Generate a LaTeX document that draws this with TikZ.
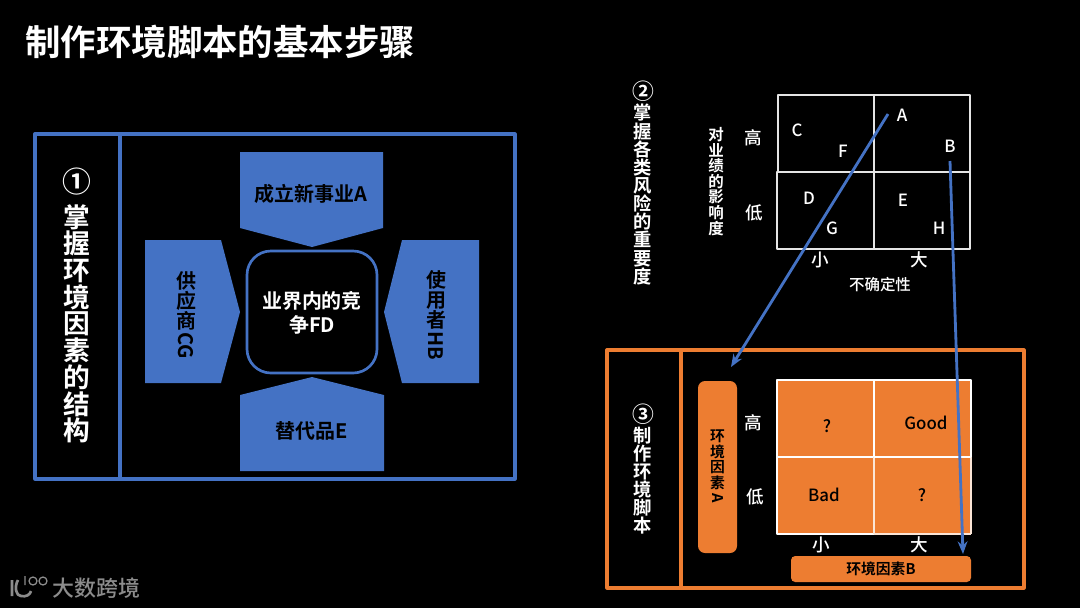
\documentclass[tikz,border=0pt]{standalone}
\usepackage{fontspec}
\setmainfont[BoldFont={Noto Sans CJK SC Bold}]{Noto Sans CJK SC Medium}
\usepackage{tikz}
\usetikzlibrary{arrows.meta,calc,positioning}
\definecolor{fiveblue}{HTML}{4472C4}
\definecolor{fiveorange}{HTML}{ED7D31}
\newcommand{\fsz}[2]{\fontsize{#1}{#2}\selectfont}
\newcommand{\rotlat}[2]{\raisebox{#1}{\rotatebox{-90}{#2}}}
\tikzset{
  wtxt/.style={text=white,inner sep=0pt,align=center},
  btxt/.style={text=black,inner sep=0pt,align=center},
  forceblock/.style={fill=fiveblue},
  cellw/.style={draw=white!90!black,line width=0.95pt},
  factorbar/.style={fill=fiveorange,rounded corners=5pt},
  linkarrow/.style={draw=fiveblue,line width=2pt,-{Stealth[length=9pt,width=7pt]}}
}
\begin{document}
\begin{tikzpicture}[x=0.025cm,y=-0.025cm,>=Stealth,line join=round]
\fill[black] (0,0) rectangle (1080,608);
\useasboundingbox (0,0) rectangle (1080,608);
\node[wtxt,font=\bfseries\fsz{25.2}{30},anchor=west] (title) at (25,42) {制作环境脚本的基本步骤};
% --- 1 structure of the factors
\draw[fiveblue,line width=2.3pt] (35,134) rectangle (515,479) (120,134) -- (120,479);
\node[wtxt,font=\bfseries\fsz{20.5}{26}] (num1) at (77,182) {①};
\node[wtxt,font=\bfseries\fsz{19}{19},anchor=north] (side1) at (77,204) {掌\\握\\环\\境\\因\\素\\的\\结\\构};
\fill[forceblock] (240,152) -- (383,152) -- (383,228) -- (312,247) -- (240,228) -- cycle;
\fill[forceblock] (145,240) -- (221,240) -- (240,312) -- (221,383) -- (145,383) -- cycle;
\fill[forceblock] (479,240) -- (402,240) -- (384,312) -- (402,383) -- (479,383) -- cycle;
\fill[forceblock] (240,395) -- (312,377) -- (384,395) -- (384,471) -- (240,471) -- cycle;
\draw[fiveblue,line width=1.9pt,fill=black,rounded corners=17pt] (247,251) rectangle (377,373);
\node[btxt,font=\bfseries\fsz{14.2}{17}] (entrant) at (311,194) {成立新事业A};
\node[btxt,font=\bfseries\fsz{14.2}{17}] (subst) at (312,431) {替代品E};
\node[wtxt,font=\bfseries\fsz{14.2}{17}] (rivalry) at (312,313) {业界内的竞\\争FD};
\node[btxt,font=\bfseries\fsz{14.2}{14.4}] (supplier) at (186,315) {供\\应\\商\\\rotlat{12pt}{CG}};
\node[btxt,font=\bfseries\fsz{14.2}{14.4}] (user) at (436,315) {使\\用\\者\\\rotlat{12pt}{HB}};
% --- 2 risk matrix
\node[wtxt,font=\bfseries\fsz{15.5}{18}] (num2) at (643,91) {②};
\node[wtxt,font=\bfseries\fsz{13}{12.9},anchor=north] (side2) at (643,104) {掌\\握\\各\\类\\风\\险\\的\\重\\要\\度};
\node[wtxt,font=\bfseries\fsz{11}{11.1},anchor=north] (axis2) at (716,127) {对\\业\\绩\\的\\影\\响\\度};
\draw[cellw] (778,95) rectangle (874,172) (874,95) rectangle (970,172) (777,172) rectangle (874,249) (874,172) rectangle (970,249);
\foreach \x/\y/\t in {902/115/A,950/146/B,797/130/C,843/151/F,809/198/D,832/228/G,903/200/E,939/228/H} {\node[wtxt,font=\fsz{12}{14}] (risk\t) at (\x,\y) {\t};}
\foreach \x/\y/\t/\n in {753/138/高/hi,754/213/低/lo,820/260/小/sm,919/260/大/bg} {\node[wtxt,font=\fsz{12.5}{14}] (top\n) at (\x,\y) {\t};}
\node[wtxt,font=\fsz{11}{13}] (uncert) at (880,285) {不确定性};
% --- 3 scenario
\draw[fiveorange,line width=2.3pt] (607,350) rectangle (1024,588) (681,350) -- (681,588);
\node[wtxt,font=\bfseries\fsz{15.5}{18}] (num3) at (643,414) {③};
\node[wtxt,font=\bfseries\fsz{13}{12.8},anchor=north] (side3) at (643,427) {制\\作\\环\\境\\脚\\本};
\node[factorbar,minimum width=39*0.025cm,minimum height=172*0.025cm] (factorA) at (717.5,467) {};
\node[factorbar,minimum width=180*0.025cm,minimum height=26*0.025cm,rounded corners=3pt] (factorB) at (881,569) {};
\node[btxt,font=\bfseries\fsz{10.5}{11}] at (factorA) {环\\境\\因\\素\\\rotlat{7pt}{A}};
\node[btxt,font=\bfseries\fsz{10.5}{13}] at (factorB) {环境因素B};
\fill[fiveorange] (777,380) rectangle (971,534);
\draw[white,line width=1.1pt] (777,380) rectangle (874,457) (874,380) rectangle (971,457) (777,457) -- (777,534) -- (874,534);
\draw[white!80!fiveorange,line width=1.1pt] (874,534) -- (971,534);
\draw[white!80!fiveorange,line width=1.1pt] (971,534) -- (971,457);
\draw[white!80!fiveorange,line width=2pt] (874,457) -- (874,534);
\draw[white,line width=1.1pt] (874,457) -- (971,457);
\foreach \x/\y/\t/\n in {827/426/?/a,926/423/Good/b,824/495/Bad/c,922/495/?/d} {\node[btxt,font=\fsz{12}{14}] (cell\n) at (\x,\y) {\t};}
\foreach \x/\y/\t/\n in {753/423/高/hi,755/497/低/lo,821/545/小/sm,919/545/大/bg} {\node[wtxt,font=\fsz{12.5}{14}] (bot\n) at (\x,\y) {\t};}
% --- links from matrix to scenario
\coordinate (fromA) at (888,114);
\coordinate (toA) at (731,367);
\coordinate (fromB) at (950,161);
\coordinate (toB) at (963,554);
\draw[linkarrow] (fromA) -- (toA);
\draw[linkarrow] (fromB) -- (toB);
% --- logo
\node[text=white!55!black,inner sep=0pt,font=\fsz{15.6}{18},anchor=west] (brand) at (52,588) {大数跨境};
\draw[white!55!black,line width=1.9pt] (12,580) -- (12,596) (18,580) .. controls (14,587) and (16,596) .. (21,596) .. controls (26,597) and (30,595) .. (31,591);
\draw[white!55!black,line width=0.9pt] (25,576) -- (25,585) (33,581) circle (4) (43,581) circle (4);
\end{tikzpicture}
\end{document}
